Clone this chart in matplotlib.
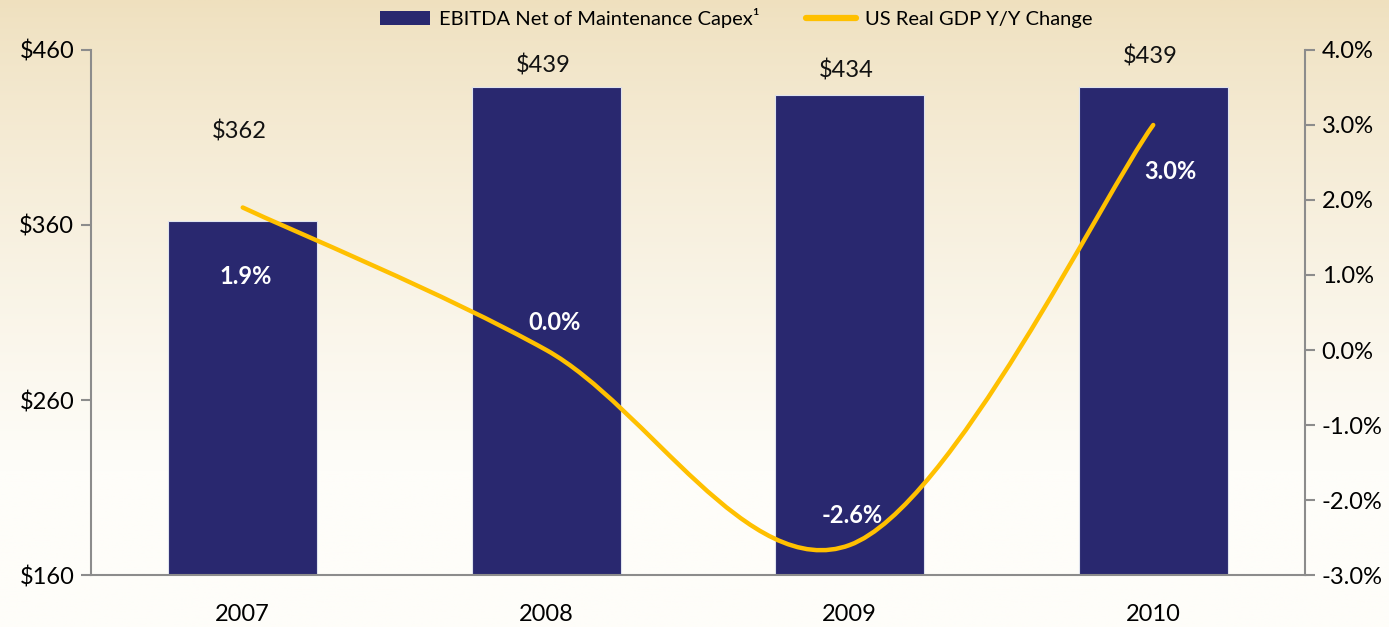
import numpy as np
import matplotlib
matplotlib.use("Agg")
import matplotlib.pyplot as plt
from matplotlib.path import Path
from matplotlib.patches import PathPatch, Patch
from matplotlib.lines import Line2D

plt.rcParams['font.family'] = ['Lato', 'DejaVu Sans']

years = ['2007', '2008', '2009', '2010']
ebitda = [362, 439, 434, 439]
gdp = [1.9, 0.0, -2.6, 3.0]
ebitda_labels = ['$362', '$439', '$434', '$439']
gdp_labels = ['1.9%', '0.0%', '-2.6%', '3.0%']
left_ticks = [160, 260, 360, 460]
right_ticks = [-3, -2, -1, 0, 1, 2, 3, 4]

navy = '#29286f'
gold = '#ffc000'
grey = '#8c8c8c'
fs = 17

fig = plt.figure(figsize=(13.89, 6.27), dpi=100)

# background gradient (tan at top, almost white at the bottom)
bg = fig.add_axes([0, 0, 1, 1], zorder=-10)
t = np.linspace(0, 1, 256)[:, None]
top = np.array([239, 224, 190]) / 255
bot = np.array([254, 253, 249]) / 255
w = np.clip(t / 0.75, 0, 1) ** 0.8
grad = top * (1 - w[..., None]) + bot * w[..., None]
grad = np.repeat(grad, 4, axis=1)
bg.imshow(grad, aspect='auto', extent=[0, 1, 0, 1])
bg.axis('off')

ax = fig.add_axes([0.0655, 0.0829, 0.874, 0.8374])
ax.patch.set_alpha(0)
x = np.arange(len(years))
bars = ax.bar(x, ebitda, width=0.49, color=navy, edgecolor='#dfe3ee', linewidth=0.8, zorder=2)
ax.set_xlim(-0.5, 3.5)
ax.set_ylim(160, 460)
ax.set_yticks(left_ticks)
ax.set_yticklabels(['$%d' % v for v in left_ticks])
ax.set_xticks(x)
ax.set_xticklabels(years)
ax.tick_params(axis='x', length=0, pad=21, labelsize=fs)
ax.tick_params(axis='y', length=7, width=1.5, color=grey, pad=5, labelsize=fs)
for s in ['top', 'right']:
    ax.spines[s].set_visible(False)
for s in ['left', 'bottom']:
    ax.spines[s].set_color(grey)
    ax.spines[s].set_linewidth(1.5)

# bar value labels
bar_off = [90, 21, 25, 30]
for xi, v, lab, off in zip(x, ebitda, ebitda_labels, bar_off):
    ax.annotate(lab, (xi, v), xytext=(-3, off), textcoords='offset pixels',
                ha='center', va='center', fontsize=fs, color='#111111')

ax2 = ax.twinx()
ax2.set_ylim(-3, 4)
ax2.set_yticks(right_ticks)
ax2.set_yticklabels(['%.1f%%' % v for v in right_ticks])
ax2.tick_params(axis='y', length=7, width=1.5, color=grey, pad=5, labelsize=fs)
for s in ['top', 'left', 'bottom']:
    ax2.spines[s].set_visible(False)
ax2.spines['right'].set_color(grey)
ax2.spines['right'].set_linewidth(1.5)

# smoothed line (cubic bezier through the points, like the spreadsheet smoothing)
pts = np.column_stack([x, gdp]).astype(float)
verts = [tuple(pts[0])]
codes = [Path.MOVETO]
n = len(pts)
for i in range(n - 1):
    p_prev = pts[max(i - 1, 0)]
    p0 = pts[i]
    p1 = pts[i + 1]
    p_next = pts[min(i + 2, n - 1)]
    c1 = p0 + (p1 - p_prev) / 6
    c2 = p1 - (p_next - p0) / 6
    verts += [tuple(c1), tuple(c2), tuple(p1)]
    codes += [Path.CURVE4] * 3
ax2.add_patch(PathPatch(Path(verts, codes), facecolor='none', edgecolor=gold,
                        linewidth=3.2, capstyle='round', zorder=3))

gdp_off = [(3, -69), (8, 28), (2, 30), (17, -47)]
for xi, v, lab, (dx, dy) in zip(x, gdp, gdp_labels, gdp_off):
    ax2.annotate(lab, (xi, v), xytext=(dx, dy), textcoords='offset pixels',
                 ha='center', va='center', fontsize=fs, fontweight='bold', color='white')

handles = [Patch(facecolor=navy, edgecolor='none'),
           Line2D([0], [0], color=gold, linewidth=4.5, solid_capstyle='round')]
fig.legend(handles, ['EBITDA Net of Maintenance Capex\u00b9', 'US Real GDP Y/Y Change'],
           loc='center', bbox_to_anchor=(0.53, 0.971), ncol=2, frameon=False,
           fontsize=14.5, handlelength=2.5, handleheight=0.7, columnspacing=2.3,
           handletextpad=0.45, borderpad=0)

fig.savefig('out.png', dpi=100)
